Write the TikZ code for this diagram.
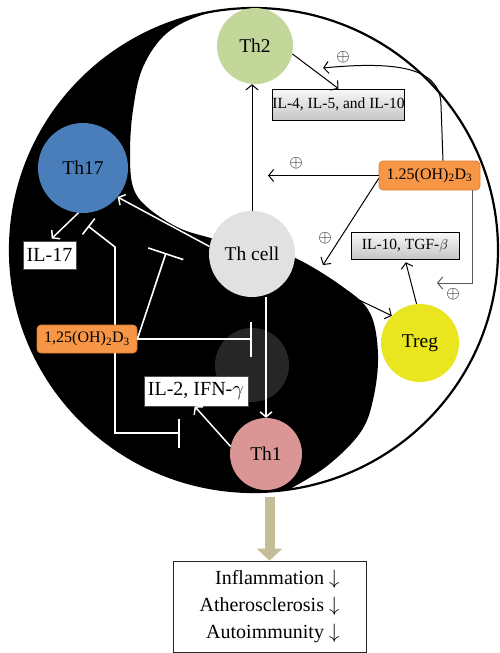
\documentclass[tikz,border=0pt]{standalone}
\usepackage{fontspec}
\setmainfont{Liberation Serif}
\usetikzlibrary{arrows.meta,calc}
\definecolor{thtwo}{HTML}{C4D79B}
\definecolor{thseventeen}{HTML}{4A7EBB}
\definecolor{thcellc}{HTML}{E1E1E1}
\definecolor{thone}{HTML}{D99694}
\definecolor{tregc}{HTML}{E9E51E}
\definecolor{vdorange}{HTML}{F79646}
\definecolor{vdborder}{HTML}{E07B2E}
\definecolor{tanarrow}{HTML}{C4BD97}
\definecolor{eyegray}{HTML}{262626}
\begin{document}
\begin{tikzpicture}[x=1pt,y=-1pt,
  cell/.style={circle, inner sep=0pt, font=\fontsize{19.5}{22}\selectfont},
  gbox/.style={draw=black, line width=0.7pt, top color=gray!5, bottom color=gray!45, inner sep=0pt, font=\fontsize{15.5}{18}\selectfont},
  obox/.style={draw=vdborder, line width=0.7pt, fill=vdorange, rounded corners=4pt, inner sep=0pt, font=\fontsize{16}{18}\selectfont},
  wbox/.style={draw=black!70, line width=0.7pt, fill=white, inner sep=0pt, font=\fontsize{20}{22}\selectfont},
  blk/.style={draw=black, line width=1pt, -{Straight Barb[length=5pt,width=12pt]}},
  wht/.style={draw=white, line width=1.5pt, -{Straight Barb[length=5pt,width=12pt]}},
  inh/.style={draw=white, line width=1.6pt},
  plus/.style={font=\fontsize{16}{18}\selectfont, inner sep=0pt}]
\useasboundingbox (0,0) rectangle (499,653);
\fill[white] (0,0) rectangle (499,653);
% yin-yang black region
\fill[black] plot[domain=92:278, samples=90] ({254+244*cos(\x)},{250-242*sin(\x)})
  -- plot[smooth, tension=0.6] coordinates {(288,490) (327,466) (360,433) (373,400) (378,355) (370,313) (343,287) (293,257) (252,248) (207,237) (177,227) (147,207) (133,187) (130,153) (133,110) (143,67) (167,33) (205,14) (245.5,8.1)} -- cycle;
\fill[eyegray] (252,365) circle[radius=37];
\draw[line width=2.2pt] (254,250) ellipse[x radius=244, y radius=242];

% nodes
\node[cell, fill=thtwo, minimum size=76pt] (th2) at (255,46) {Th2};
\node[cell, fill=thseventeen, minimum size=90pt] (th17) at (83,168) {Th17};
\node[cell, fill=thcellc, minimum size=86pt] (thc) at (252,254) {Th cell};
\node[cell, fill=thone, minimum size=72pt] (th1) at (266,454) {Th1};
\node[cell, fill=tregc, minimum size=78pt] (treg) at (420,343) {Treg};

\node[gbox, minimum width=131pt, minimum height=31pt] (il4) at (338.5,104.5) {IL-4, IL-5, and IL-10};
\node[gbox, minimum width=108pt, minimum height=27pt] (il10) at (405,245.5) {IL-10, TGF-$\beta$};
\node[obox, minimum width=101pt, minimum height=29pt] (vdR) at (429.5,175.5) {1.25(OH)\textsubscript{2}D\textsubscript{3}};
\node[obox, minimum width=100pt, minimum height=28pt] (vdL) at (87,339) {1,25(OH)\textsubscript{2}D\textsubscript{3}};
\node[wbox, minimum width=53pt, minimum height=28pt] (il17) at (49.5,255) {IL-17};
\node[wbox, minimum width=104pt, minimum height=30pt] (il2) at (196,391) {IL-2, IFN-$\gamma$};
\node[draw=black!85, line width=0.8pt, fill=white, minimum width=193pt, minimum height=91pt, align=right, inner sep=0pt,
  font=\fontsize{20}{27}\selectfont] (out) at (269.5,606.5) {Inflammation $\downarrow$\\Atherosclerosis $\downarrow$\\Autoimmunity $\downarrow$};

% plus signs
\node[plus] (p1) at (343,57) {$\oplus$};
\node[plus] (p2) at (296,163) {$\oplus$};
\node[plus] (p3) at (325,238) {$\oplus$};
\node[plus] (p4) at (453,294) {$\oplus$};

% free ends
\coordinate (c1) at (323,68);
\coordinate (c3) at (323,265);
\coordinate (c4) at (437,283);
\coordinate (i1) at (115,247);
\coordinate (i1e) at (88,226);
\coordinate (i2) at (166,253);
\coordinate (i3) at (252,339);
\coordinate (i4) at (180,433);

% black connectors
\draw[blk] (thc.north) -- (thc.north |- th2.south);
\draw[blk] (th2.-12) -- (il4.north);
\draw[blk] ($(vdR.north)+(13.5,0)$) -- ++(-2,-55) .. controls +(0,-35) and (405,60) .. (c1);
\draw[blk] (vdR.west) -- (vdR.west -| 268,0);
\draw[blk] ($(vdR.west)+(0,3)$) -- (c3);
\draw[blk, draw=black!65] ($(vdR.south east)+(-8,0)$) |- (c4);
\draw[blk, shorten >=3pt] (treg.95) -- (il10.south);
\draw[blk] (thc.-19) -- (treg.136);

% white connectors
\draw[wht] (thc.170) -- (th17.-40);
\draw[wht, shorten >=3pt] (th17.-96) -- (il17.north);
\draw[wht] (th1.north |- thc.south) -- (th1.north);
\draw[wht] (th1.168) -- (il2.-95);

% inhibitions
\draw[inh, -{Bar[width=20pt]}] ($(vdL.north)+(28,0)$) -- (i1) -- (i1e);
\draw[inh, -{Bar[width=37pt]}] (vdL.east) -- (i2);
\draw[inh, -{Bar[width=35pt]}] (vdL.east) -- (i3);
\draw[inh, -{Bar[width=29pt]}] ($(vdL.south)+(28,0)$) |- (i4);

% big arrow
\draw[line width=10pt, draw=tanarrow, shorten <=7pt, -{Triangle[width=25pt,length=12pt]}] (out.north |- th1.south) -- (out.north);
\end{tikzpicture}
\end{document}
